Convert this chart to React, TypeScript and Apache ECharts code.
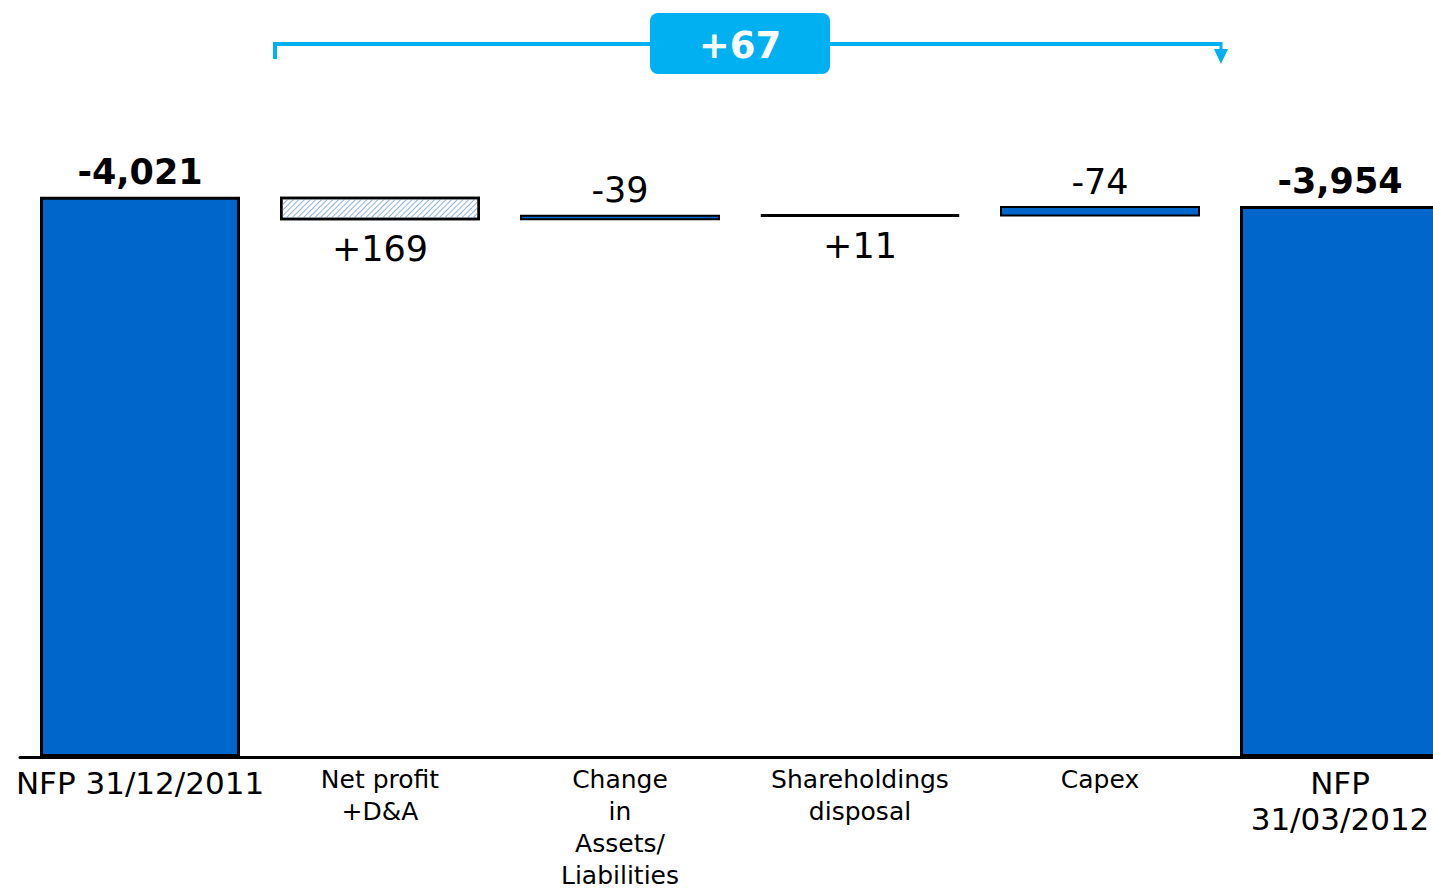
import React, { useEffect, useRef } from "react";
import * as echarts from "echarts";

const categories = [
  "NFP 31/12/2011",
  "Net profit\n+D&A",
  "Change\nin\nAssets/\nLiabilities",
  "Shareholdings\ndisposal",
  "Capex",
  "NFP\n31/03/2012",
];
const openingNfp = -4021;
const changes = [169, -39, 11, -74];
const closingNfp = -3954;

const BLUE = "#0066CC";
const CYAN = "#00B0F0";
const FONT = "Verdana, 'DejaVu Sans', sans-serif";

function fmtTotal(v: number) {
  return v.toLocaleString("en-US");
}
function fmtChange(v: number) {
  return v > 0 ? "+" + v.toLocaleString("en-US") : v.toLocaleString("en-US");
}

export default function App() {
  const ref = useRef<HTMLDivElement>(null);
  useEffect(() => {
    document.body.style.margin = "0";
    if (!ref.current) return;
    const chart = echarts.init(ref.current, undefined, { renderer: "svg" });

    let debt = -openingNfp;
    const bases: number[] = [0];
    const heights: any[] = [];
    heights.push({
      value: -openingNfp,
      label: { show: true, position: "top", distance: 7, formatter: fmtTotal(openingNfp), fontWeight: "bold", fontSize: 35 },
    });
    changes.forEach((c, i) => {
      const next = debt - c;
      bases.push(Math.min(debt, next));
      const item: any = {
        value: Math.abs(c),
        label: {
          show: true,
          position: c > 0 ? "bottom" : "top",
          distance: c > 0 ? 11 : 7,
          formatter: fmtChange(c),
          fontSize: 35,
        },
        itemStyle: { borderWidth: 2 },
      };
      if (i === 0) {
        item.itemStyle = {
          color: "#ffffff",
          borderWidth: 2.5,
          decal: {
            symbol: "rect",
            symbolSize: 1,
            dashArrayX: [1, 0],
            dashArrayY: [1, 3],
            rotation: -Math.PI / 4,
            color: "#8DB4E2",
          },
        };
      }
      if (Math.abs(c) < 20) {
        item.itemStyle = { color: "#000", borderWidth: 3 };
      }
      heights.push(item);
      debt = next;
    });
    bases.push(0);
    heights.push({
      value: -closingNfp,
      label: { show: true, position: "top", distance: 8, formatter: fmtTotal(closingNfp), fontWeight: "bold", fontSize: 35 },
    });

    const catData = categories.map((c, i) => {
      const big = i === 0 || i === categories.length - 1;
      return {
        value: c,
        textStyle: big ? { fontSize: 31, lineHeight: 36, padding: [2, 0, 0, 0] } : { fontSize: 25, lineHeight: 32 },
      };
    });

    chart.setOption({
      animation: false,
      textStyle: { fontFamily: FONT },
      grid: { left: 20, right: 0, top: 130, bottom: 132, outerBoundsMode: "none", containLabel: false },
      xAxis: {
        type: "category",
        data: catData,
        axisLine: { lineStyle: { color: "#000", width: 3 } },
        axisTick: { show: false },
        axisLabel: { color: "#000", fontFamily: FONT, margin: 6, interval: 0, verticalAlign: "top" },
      },
      yAxis: { type: "value", min: 0, max: 4500, show: false, splitLine: { show: false } },
      series: [
        {
          type: "bar",
          stack: "w",
          data: bases,
          itemStyle: { color: "transparent", borderWidth: 0 },
          barWidth: 200,
          silent: true,
        },
        {
          type: "bar",
          stack: "w",
          data: heights,
          barWidth: 200,
          itemStyle: { color: BLUE, borderColor: "#000", borderWidth: 3 },
          label: { color: "#000", fontFamily: FONT },
        },
      ],
    });

    const px = (i: number) => chart.convertToPixel({ xAxisIndex: 0 }, i) as number;
    const xl = px(1) - 105;
    const xr = px(4) + 121;
    const cx = (px(2) + px(3)) / 2;
    const y = 44;
    const delta = closingNfp - openingNfp;
    chart.setOption({
      graphic: [
        { type: "line", shape: { x1: xl, y1: y, x2: xr, y2: y }, style: { stroke: CYAN, lineWidth: 4 } },
        { type: "line", shape: { x1: xl, y1: y - 2, x2: xl, y2: y + 15 }, style: { stroke: CYAN, lineWidth: 4 } },
        { type: "line", shape: { x1: xr, y1: y - 2, x2: xr, y2: y + 6 }, style: { stroke: CYAN, lineWidth: 3 } },
        { type: "polygon", shape: { points: [[xr - 7, y + 5], [xr + 7, y + 5], [xr, y + 20]] }, style: { fill: CYAN } },
        { type: "rect", shape: { x: cx - 90, y: 13, width: 180, height: 61, r: 8 }, style: { fill: CYAN } },
        {
          type: "text",
          x: cx,
          y: y + 1,
          style: {
            text: (delta > 0 ? "+" : "") + delta,
            fill: "#fff",
            font: `bold 37px ${FONT}`,
            align: "center",
            verticalAlign: "middle",
          },
        },
      ],
    });

    return () => chart.dispose();
  }, []);
  return (
    <div style={{ width: 1433, height: 889, overflow: "hidden", position: "relative" }}>
      <div ref={ref} style={{ width: 1460, height: 889 }} />
    </div>
  );
}
